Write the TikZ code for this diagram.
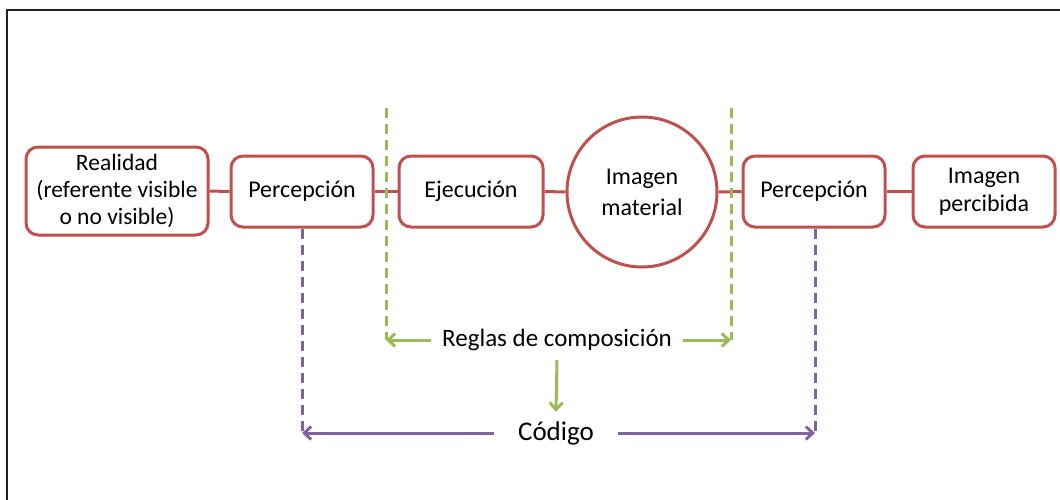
\documentclass[tikz,border=0pt]{standalone}
\usepackage{fontspec}
\setmainfont{Carlito}
\usetikzlibrary{arrows.meta}
\definecolor{boxred}{HTML}{C0504D}
\definecolor{grn}{HTML}{9BBB59}
\definecolor{purp}{HTML}{8064A2}
\definecolor{frame}{HTML}{222222}
\tikzset{
  stepbox/.style={draw=boxred, line width=3pt, rounded corners=12pt, fill=white,
    inner sep=0pt, align=center, font=\fontsize{24}{28}\selectfont},
  circbox/.style={draw=boxred, line width=3pt, circle, fill=white, minimum size=150pt,
    inner sep=0pt, align=center, font=\fontsize{24}{31}\selectfont},
  link/.style={draw=boxred, line width=3pt},
  gdash/.style={draw=grn, line width=3pt, dash pattern=on 10pt off 6pt},
  pdash/.style={draw=purp, line width=3pt, dash pattern=on 10pt off 6pt},
  garrow/.style={draw=grn, line width=3pt, -{Straight Barb[length=7pt,width=13pt]}},
  parrow/.style={draw=purp, line width=3pt, -{Straight Barb[length=7pt,width=13pt]}},
  label/.style={inner ysep=0pt},
}
\begin{document}
\begin{tikzpicture}[x=1pt, y=-1pt]
\useasboundingbox (0,0) rectangle (1060,499);
% frame (top and left edges)
\coordinate (ftl) at (7,10);
\coordinate (ftr) at (1062,10);
\coordinate (fbl) at (7,501);
\draw[frame, line width=1.4pt] (ftr) -- (ftl) -- (fbl);

% dashed guides
\coordinate (g1t) at (386,108);
\coordinate (g1b) at (386,340);
\coordinate (g2t) at (731,108);
\coordinate (g2b) at (731,340);
\coordinate (p1b) at (302,433);
\coordinate (p2b) at (815,433);

% boxes
\node[stepbox, minimum width=182pt, minimum height=88pt,
      font=\fontsize{23.5}{27}\selectfont] (real) at (117,191)
      {Realidad\\(referente visible\\o no visible)};
\node[stepbox, minimum width=142pt, minimum height=71pt] (perc1) at (302,191.5) {Percepción};
\node[stepbox, minimum width=144pt, minimum height=71pt] (ejec) at (471,191.5) {Ejecución};
\node[circbox] (imat) at (642,192) {Imagen\\material};
\node[stepbox, minimum width=142pt, minimum height=71pt] (perc2) at (814,191.5) {Percepción};
\node[stepbox, minimum width=142pt, minimum height=71pt] (iperc) at (984,191.5) {Imagen\\percibida};

% red connectors
\draw[link] (real.east) -- (perc1.west);
\draw[link] (perc1.east) -- (ejec.west);
\draw[link] (ejec.east) -- (imat.west);
\draw[link] (imat.east) -- (perc2.west);
\draw[link] (perc2.east) -- (iperc.west);

% green dashed lines over red connectors
\draw[gdash] (g1t) -- (g1b);
\draw[gdash] (g2t) -- (g2b);

% purple dashed lines
\draw[pdash] (perc1.south) -- (p1b);
\draw[pdash] ([xshift=1pt]perc2.south) -- (p2b);

% labels
\node[label, inner xsep=11pt, minimum height=40pt, font=\fontsize{25}{29}\selectfont]
      (reglas) at (557,340) {Reglas de composición};
\node[label, inner xsep=24pt, minimum height=42pt, font=\fontsize{27}{31}\selectfont]
      (codigo) at (556,433) {Código};

\draw[garrow] (reglas.west) -- (g1b);
\draw[garrow] (reglas.east) -- (g2b);
\draw[garrow] (reglas.south) -- (codigo.north);
\draw[parrow] (codigo.west) -- (p1b);
\draw[parrow] (codigo.east) -- (p2b);
\end{tikzpicture}
\end{document}
